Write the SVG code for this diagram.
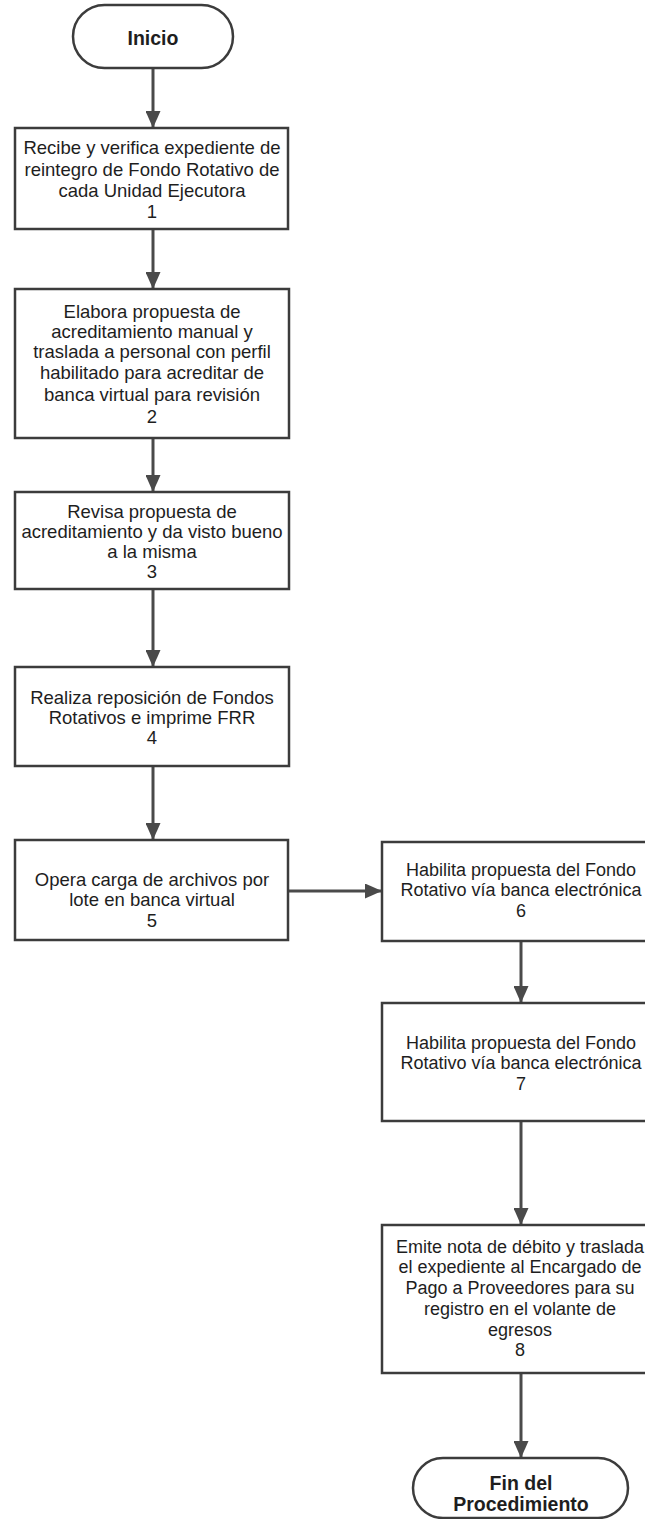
<svg xmlns="http://www.w3.org/2000/svg" width="645" height="1519" viewBox="0 0 645 1519">
  <style>
    .box { fill: #ffffff; stroke: #3c3c3c; stroke-width: 2.5; }
    .term { fill: #ffffff; stroke: #3c3c3c; stroke-width: 2.5; }
    .lbl { font-family: "Liberation Sans", Arial, sans-serif; font-size: 18.5px; fill: #1e1e1e; text-anchor: middle; }
    .lbl-r { font-family: "Liberation Sans", Arial, sans-serif; font-size: 18px; fill: #1e1e1e; text-anchor: middle; }
    .tlbl { font-family: "Liberation Sans", Arial, sans-serif; font-size: 19.5px; font-weight: bold; fill: #1e1e1e; text-anchor: middle; }
    .edge { fill: none; stroke: #4a4a4a; stroke-width: 3; }
  </style>
  <defs>
    <marker id="arrow" viewBox="0 0 17 15" refX="17" refY="7.5" markerWidth="17" markerHeight="15" markerUnits="userSpaceOnUse" orient="auto">
      <path d="M0,0 L17,7.5 L0,15 Z" fill="#4a4a4a"/>
    </marker>
  </defs>
  <rect width="645" height="1519" fill="#ffffff"/>

  <!-- connectors -->
  <g id="connectors">
    <line class="edge" x1="153" y1="68" x2="153" y2="128" marker-end="url(#arrow)"/>
    <line class="edge" x1="153" y1="229" x2="153" y2="289" marker-end="url(#arrow)"/>
    <line class="edge" x1="153" y1="438" x2="153" y2="492" marker-end="url(#arrow)"/>
    <line class="edge" x1="153" y1="589" x2="153" y2="667" marker-end="url(#arrow)"/>
    <line class="edge" x1="153" y1="766" x2="153" y2="840" marker-end="url(#arrow)"/>
    <line class="edge" x1="288" y1="891" x2="382" y2="891" marker-end="url(#arrow)"/>
    <line class="edge" x1="521" y1="941" x2="521" y2="1003" marker-end="url(#arrow)"/>
    <line class="edge" x1="521" y1="1121" x2="521" y2="1225" marker-end="url(#arrow)"/>
    <line class="edge" x1="521" y1="1373" x2="521" y2="1458" marker-end="url(#arrow)"/>
  </g>

  <!-- start -->
  <g id="inicio">
    <rect class="term" x="73" y="5" width="160" height="63" rx="31.5" ry="31.5"/>
    <text class="tlbl" x="153" y="45">Inicio</text>
  </g>

  <g id="paso1">
    <rect class="box" x="15" y="128" width="273" height="101"/>
    <text class="lbl" x="152" y="154">Recibe y verifica expediente de</text>
    <text class="lbl" x="152" y="176">reintegro de Fondo Rotativo de</text>
    <text class="lbl" x="152" y="197">cada Unidad Ejecutora</text>
    <text class="lbl" x="152" y="218">1</text>
  </g>

  <g id="paso2">
    <rect class="box" x="15" y="289" width="274" height="149"/>
    <text class="lbl" x="152" y="318">Elabora propuesta de</text>
    <text class="lbl" x="152" y="338">acreditamiento manual y</text>
    <text class="lbl" x="152" y="358">traslada a personal con perfil</text>
    <text class="lbl" x="152" y="379">habilitado para acreditar de</text>
    <text class="lbl" x="152" y="401">banca virtual para revisión</text>
    <text class="lbl" x="152" y="423">2</text>
  </g>

  <g id="paso3">
    <rect class="box" x="15" y="492" width="274" height="97"/>
    <text class="lbl" x="152" y="518">Revisa propuesta de</text>
    <text class="lbl" x="152" y="538">acreditamiento y da visto bueno</text>
    <text class="lbl" x="152" y="558">a la misma</text>
    <text class="lbl" x="152" y="578">3</text>
  </g>

  <g id="paso4">
    <rect class="box" x="15" y="667" width="274" height="99"/>
    <text class="lbl" x="152" y="704">Realiza reposición de Fondos</text>
    <text class="lbl" x="152" y="724">Rotativos e imprime FRR</text>
    <text class="lbl" x="152" y="744">4</text>
  </g>

  <g id="paso5">
    <rect class="box" x="15" y="840" width="273" height="100"/>
    <text class="lbl" x="152" y="886">Opera carga de archivos por</text>
    <text class="lbl" x="152" y="906">lote en banca virtual</text>
    <text class="lbl" x="152" y="927">5</text>
  </g>

  <g id="paso6">
    <rect class="box" x="382" y="842" width="278" height="99"/>
    <text class="lbl-r" x="521" y="876">Habilita propuesta del Fondo</text>
    <text class="lbl-r" x="521" y="896">Rotativo vía banca electrónica</text>
    <text class="lbl-r" x="521" y="917">6</text>
  </g>

  <g id="paso7">
    <rect class="box" x="382" y="1003" width="278" height="118"/>
    <text class="lbl-r" x="521" y="1049">Habilita propuesta del Fondo</text>
    <text class="lbl-r" x="521" y="1069">Rotativo vía banca electrónica</text>
    <text class="lbl-r" x="521" y="1090">7</text>
  </g>

  <g id="paso8">
    <rect class="box" x="382" y="1225" width="278" height="148"/>
    <text class="lbl-r" x="520" y="1253">Emite nota de débito y traslada</text>
    <text class="lbl-r" x="520" y="1273">el expediente al Encargado de</text>
    <text class="lbl-r" x="520" y="1294">Pago a Proveedores para su</text>
    <text class="lbl-r" x="520" y="1315">registro en el volante de</text>
    <text class="lbl-r" x="520" y="1336">egresos</text>
    <text class="lbl-r" x="520" y="1356">8</text>
  </g>

  <!-- end -->
  <g id="fin">
    <rect class="term" x="413" y="1458" width="215" height="60" rx="30" ry="30"/>
    <text class="tlbl" x="521" y="1490">Fin del</text>
    <text class="tlbl" x="521" y="1511">Procedimiento</text>
  </g>
</svg>
